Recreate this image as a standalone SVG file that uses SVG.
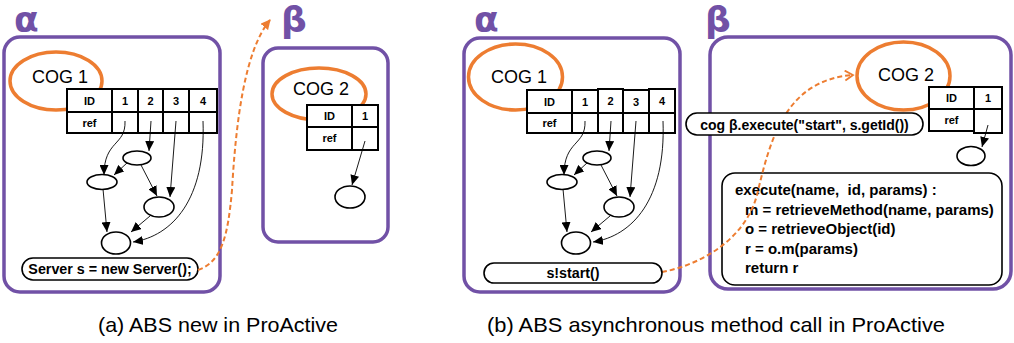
<svg xmlns="http://www.w3.org/2000/svg" width="1014" height="343" viewBox="0 0 1014 343">
<style>
.box{fill:none;stroke:#7151A6;stroke-width:3.5}
.cog{fill:none;stroke:#ED7D31;stroke-width:3.5}
.cell{fill:#fff;stroke:#000;stroke-width:2}
.obj{fill:#fff;stroke:#000;stroke-width:1.6}
.edge{fill:none;stroke:#000;stroke-width:0.9;marker-end:url(#ah)}
.dash{fill:none;stroke:#ED7D31;stroke-width:2;stroke-dasharray:5 3}
.pill{fill:#fff;stroke:#000;stroke-width:1.6}
.greek{font-family:"DejaVu Sans",sans-serif;font-weight:bold;font-size:36px;fill:#7151A6}
.cogt{font-family:"Liberation Sans",Arial,sans-serif;font-size:18px;fill:#000;text-anchor:middle}
.ct{font-family:"Liberation Sans",Arial,sans-serif;font-size:11px;font-weight:bold;fill:#000;text-anchor:middle}
.code{font-family:"Liberation Sans",Arial,sans-serif;font-size:14.3px;font-weight:bold;fill:#000;white-space:pre}
.exe{font-size:15px}
.cap{font-family:"Liberation Sans",Arial,sans-serif;font-size:21px;fill:#000}
</style>
<defs>
<marker id="ah" markerUnits="userSpaceOnUse" markerWidth="10" markerHeight="9" refX="10" refY="4.5" orient="auto"><path d="M0,0 L10,4.5 L0,9 z" fill="#000"/></marker>
<marker id="oa" markerUnits="userSpaceOnUse" markerWidth="10" markerHeight="10" refX="9" refY="5" orient="auto"><path d="M0,0 L10,5 L0,10 z" fill="#ED7D31"/></marker>
<marker id="oc" markerUnits="userSpaceOnUse" markerWidth="12" markerHeight="12" refX="10" refY="6" orient="auto"><path d="M2,1 L10,6 L2,11" fill="none" stroke="#ED7D31" stroke-width="1.8"/></marker>
</defs>
<rect width="1014" height="343" fill="#fff"/>

<!-- Panel (a) alpha -->
<g id="alphaA">
<text class="greek" x="14" y="32">α</text>
<rect class="box" x="4" y="37" width="216" height="255" rx="16"/>
<ellipse class="cog" cx="56" cy="81" rx="46" ry="29"/>
<text class="cogt" x="60" y="83">COG 1</text>
</g>
<g id="tableA">
<rect class="cell" x="67" y="89" width="45" height="23"/><rect class="cell" x="112" y="89" width="26" height="23"/><rect class="cell" x="138" y="89" width="25" height="23"/><rect class="cell" x="163" y="89" width="26" height="23"/><rect class="cell" x="189" y="89" width="28" height="23"/>
<rect class="cell" x="67" y="112" width="45" height="21"/><rect class="cell" x="112" y="112" width="26" height="21"/><rect class="cell" x="138" y="112" width="25" height="21"/><rect class="cell" x="163" y="112" width="26" height="21"/><rect class="cell" x="189" y="112" width="28" height="21"/>
<text class="ct" x="89.5" y="105">ID</text><text class="ct" x="125" y="105">1</text><text class="ct" x="150.5" y="105">2</text><text class="ct" x="176" y="105">3</text><text class="ct" x="203" y="105">4</text>
<text class="ct" x="89.5" y="127">ref</text>
</g>
<g id="connectorsA">
<path class="edge" d="M125,121 C126,146 104,140 104,175"/>
<path class="edge" d="M151,121 L149,151"/>
<path class="edge" d="M176,121 L170,197"/>
<path class="edge" d="M203,121 C206,200 172,236 133,242"/>
<path class="edge" d="M128,162 L114,175"/>
<path class="edge" d="M141,165 L157,196"/>
<path class="edge" d="M103,189 L107,232"/>
<path class="edge" d="M150,216 L131,232"/>
</g>
<g id="objA1"><ellipse class="obj" cx="137" cy="158" rx="14" ry="7"/></g>
<g id="objA2"><ellipse class="obj" cx="102" cy="182" rx="15" ry="7.5"/></g>
<g id="objA3"><ellipse class="obj" cx="159" cy="207" rx="15" ry="10"/></g>
<g id="objA4"><ellipse class="obj" cx="116" cy="243" rx="14.5" ry="11"/></g>
<g id="serverA">
<rect class="pill" x="22" y="258" width="176" height="22" rx="11"/>
<text class="code" x="110" y="274" text-anchor="middle">Server s = new Server();</text>
</g>

<!-- Panel (a) beta -->
<g id="betaA">
<text class="greek" x="281" y="32">β</text>
<rect class="box" x="263" y="48" width="125" height="194" rx="15"/>
<ellipse class="cog" cx="319" cy="94" rx="47" ry="26"/>
<text class="cogt" x="321" y="95">COG 2</text>
<rect class="cell" x="307" y="105" width="45" height="22"/><rect class="cell" x="352" y="105" width="26" height="22"/>
<rect class="cell" x="307" y="127" width="45" height="23"/><rect class="cell" x="352" y="127" width="26" height="23"/>
<text class="ct" x="329.5" y="120">ID</text><text class="ct" x="365" y="120">1</text><text class="ct" x="329.5" y="142">ref</text>
<path class="edge" d="M365,141 L352,185"/>
<ellipse class="obj" cx="350" cy="197" rx="15" ry="11"/>
</g>
<g id="connectorNew">
<path class="dash" d="M198,270 C222,262 228,235 232,190 C236,120 245,50 270,20" marker-end="url(#oa)"/>
</g>

<!-- Panel (b) alpha -->
<g id="alphaB">
<text class="greek" x="474" y="32">α</text>
<rect class="box" x="464" y="38" width="216" height="254" rx="16"/>
<ellipse class="cog" cx="515.5" cy="77" rx="47" ry="33"/>
<text class="cogt" x="519" y="83">COG 1</text>
</g>
<g id="tableB">
<rect class="cell" x="527" y="90" width="45" height="23"/><rect class="cell" x="572" y="90" width="26" height="23"/><rect class="cell" x="598" y="89" width="25" height="24"/><rect class="cell" x="623" y="90" width="26" height="23"/><rect class="cell" x="649" y="89" width="26" height="24"/>
<rect class="cell" x="527" y="113" width="45" height="20"/><rect class="cell" x="572" y="113" width="26" height="20"/><rect class="cell" x="598" y="113" width="25" height="20"/><rect class="cell" x="623" y="113" width="26" height="20"/><rect class="cell" x="649" y="113" width="26" height="20"/>
<text class="ct" x="549.5" y="106">ID</text><text class="ct" x="585" y="106">1</text><text class="ct" x="610.5" y="105">2</text><text class="ct" x="636" y="106">3</text><text class="ct" x="662" y="105">4</text>
<text class="ct" x="549.5" y="127">ref</text>
</g>
<g id="connectorsB">
<path class="edge" d="M585,121 C586,146 564,140 564,175"/>
<path class="edge" d="M611,121 L609,151"/>
<path class="edge" d="M636,121 L630,197"/>
<path class="edge" d="M663,121 C666,200 632,236 593,242"/>
<path class="edge" d="M588,162 L574,175"/>
<path class="edge" d="M601,165 L617,196"/>
<path class="edge" d="M563,189 L567,232"/>
<path class="edge" d="M610,216 L591,232"/>
</g>
<g id="objB1"><ellipse class="obj" cx="597" cy="158" rx="14" ry="7"/></g>
<g id="objB2"><ellipse class="obj" cx="562" cy="182" rx="15" ry="7.5"/></g>
<g id="objB3"><ellipse class="obj" cx="619" cy="207" rx="15" ry="10"/></g>
<g id="objB4"><ellipse class="obj" cx="576" cy="243" rx="14.5" ry="11"/></g>

<!-- Panel (b) beta -->
<g id="betaB">
<text class="greek" x="705" y="32">β</text>
<rect class="box" x="710" y="37" width="301" height="252" rx="18"/>
<ellipse class="cog" cx="903.5" cy="76" rx="46.5" ry="34"/>
<text class="cogt" x="906" y="81">COG 2</text>
</g>
<g id="executeBox">
<rect class="pill" x="722" y="173" width="280" height="112" rx="13"/>
<text class="code exe" x="735" y="195" xml:space="preserve">execute(name,  id, params) :</text>
<text class="code exe" x="745" y="215">m = retrieveMethod(name, params)</text>
<text class="code exe" x="745" y="234">o = retrieveObject(id)</text>
<text class="code exe" x="745" y="254">r = o.m(params)</text>
<text class="code exe" x="745" y="273">return r</text>
</g>
<g id="connectorCall">
<path class="dash" d="M662,272 C700,265 745,240 757,195 C770,140 785,80 853,75" marker-end="url(#oc)"/>
</g>
<g id="startB">
<rect class="pill" x="484" y="263" width="178" height="20" rx="10"/>
<text class="code" x="573" y="278" text-anchor="middle">s!start()</text>
</g>
<g id="cogCall">
<rect class="pill" x="686" y="113" width="237" height="22" rx="11"/>
<text class="code" x="804.5" y="129.5" text-anchor="middle" style="font-size:14px">cog β.execute("start", s.getId())</text>
</g>
<g id="tableBeta">
<rect class="cell" x="929" y="87" width="45" height="22"/><rect class="cell" x="974" y="87" width="28" height="22"/>
<rect class="cell" x="929" y="109" width="45" height="22"/><rect class="cell" x="974" y="109" width="28" height="24"/>
<text class="ct" x="951.5" y="102">ID</text><text class="ct" x="988" y="102">1</text><text class="ct" x="951.5" y="124">ref</text>
<path class="edge" d="M988,125 L982,147"/>
<ellipse class="obj" cx="971" cy="156" rx="14" ry="9.5"/>
</g>

<text class="cap" x="98" y="332" textLength="240" lengthAdjust="spacingAndGlyphs">(a) ABS new in ProActive</text>
<text class="cap" x="487" y="332" textLength="458" lengthAdjust="spacingAndGlyphs">(b) ABS asynchronous method call in ProActive</text>
</svg>
